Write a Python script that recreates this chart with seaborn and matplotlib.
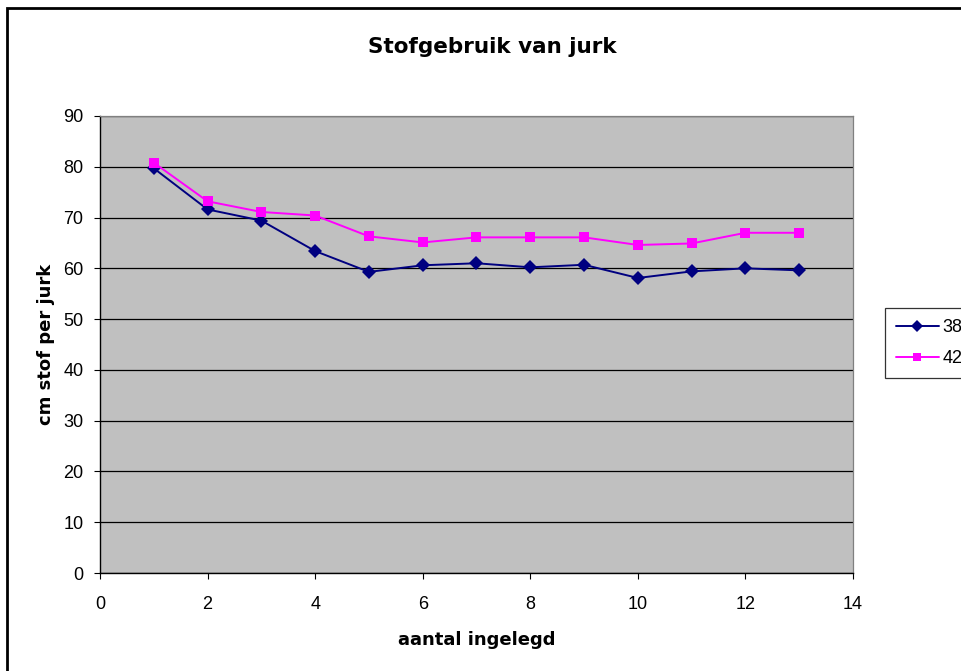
import matplotlib
matplotlib.use("Agg")
import matplotlib.pyplot as plt
from matplotlib.patches import Rectangle
import pandas as pd
import seaborn as sns

aantal = [1, 2, 3, 4, 5, 6, 7, 8, 9, 10, 11, 12, 13]
maat_38 = [79.7, 71.6, 69.4, 63.4, 59.3, 60.6, 61.0, 60.2, 60.7, 58.1, 59.4, 60.0, 59.6]
maat_42 = [80.8, 73.2, 71.1, 70.4, 66.3, 65.1, 66.1, 66.1, 66.1, 64.6, 64.9, 67.0, 67.0]
series = ["38", "42"]
colors = {"38": "#000080", "42": "#FF00FF"}
markers = {"38": "D", "42": "s"}

df = pd.DataFrame({
    "aantal": aantal * 2,
    "cm": maat_38 + maat_42,
    "maat": ["38"] * len(aantal) + ["42"] * len(aantal),
})

sns.set_theme(style="white")
plt.rcParams["font.family"] = ["Liberation Sans", "DejaVu Sans"]
plt.rcParams["text.color"] = "black"
plt.rcParams["axes.labelcolor"] = "black"
plt.rcParams["xtick.color"] = "black"
plt.rcParams["ytick.color"] = "black"

fig = plt.figure(figsize=(9.62, 6.71), dpi=100)
ax = fig.add_axes([100 / 962, 1 - 573 / 671, 753 / 962, 457 / 671])
ax.set_facecolor("#C0C0C0")

sns.lineplot(data=df, x="aantal", y="cm", hue="maat", style="maat",
             palette=colors, markers=markers, dashes=False,
             hue_order=series, style_order=series,
             markersize=7, markeredgewidth=0, linewidth=1.4, ax=ax)

ax.set_xlim(0, 14)
ax.set_ylim(0, 90)
ax.set_xticks(range(0, 15, 2))
ax.set_yticks(range(0, 91, 10))
ax.yaxis.grid(True, color="black", linewidth=0.9)
ax.set_axisbelow(True)
ax.tick_params(axis="both", labelsize=13, length=4.5, width=0.8, direction="out",
               color="black", bottom=True, left=True)
ax.tick_params(axis="y", pad=7.5)
ax.tick_params(axis="x", pad=12)

for side in ["top", "right"]:
    ax.spines[side].set_color("#808080")
    ax.spines[side].set_linewidth(0.9)
for side in ["left", "bottom"]:
    ax.spines[side].set_color("black")
    ax.spines[side].set_linewidth(1.0)

label_font = {"family": "DejaVu Sans", "size": 13, "weight": "bold"}
ax.set_xlabel("aantal ingelegd", fontdict=label_font, labelpad=13)
ax.set_ylabel("cm stof per jurk", fontdict=label_font, labelpad=6)
fig.text(492 / 962, 1 - 53 / 671, "Stofgebruik van jurk", family="DejaVu Sans",
         fontsize=15.5, fontweight="bold", ha="center", va="baseline")

leg = ax.legend(loc="upper left", bbox_to_anchor=(885 / 962, 1 - 308 / 671),
                bbox_transform=fig.transFigure, fontsize=13, frameon=True,
                fancybox=False, edgecolor="black", handlelength=2.4,
                borderpad=0.6, handletextpad=0.2, labelspacing=0.8,
                borderaxespad=0, markerscale=0.85)
leg.get_frame().set_linewidth(0.9)
leg.set_title(None)

fig.patches.append(Rectangle((7 / 962, -0.05), 1.2, 1 - 8 / 671 + 0.05,
                             transform=fig.transFigure, fill=False,
                             edgecolor="black", linewidth=2))

fig.savefig("out.png", dpi=100)
